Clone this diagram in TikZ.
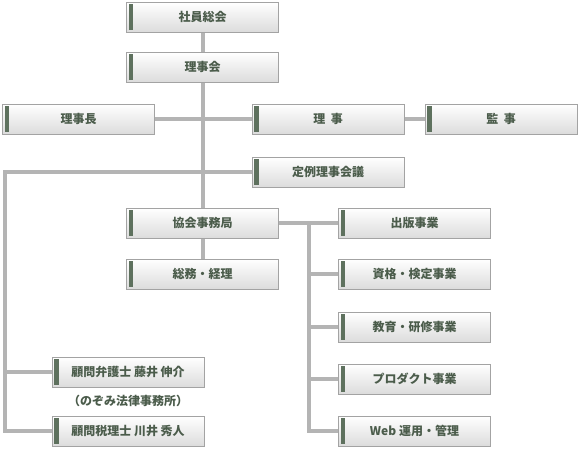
\documentclass[tikz,border=0pt]{standalone}
\usepackage{fontspec}
\newfontfamily\cjk{Noto Sans CJK JP}
\usetikzlibrary{backgrounds}
\definecolor{boxborder}{HTML}{A3A3A3}
\definecolor{boxbottom}{HTML}{DCDCDC}
\definecolor{bargreen}{HTML}{5E715E}
\definecolor{textgreen}{HTML}{4B5C4B}
\definecolor{linegray}{HTML}{B4B4B4}
\tikzset{
  orgbox/.style={draw=boxborder, line width=1pt, top color=white, bottom color=boxbottom,
    minimum width=152pt, minimum height=30pt, inner sep=0pt,
    font=\cjk\bfseries\fontsize{12}{14}\selectfont, text=textgreen,
    path picture={\fill[bargreen] ([xshift=2pt,yshift=-2pt]path picture bounding box.north west)
      rectangle ([xshift=6.5pt,yshift=2pt]path picture bounding box.south west);}},
  conn/.style={draw=linegray, line width=4pt},
  note/.style={font=\cjk\bfseries\fontsize{12}{14}\selectfont, text=textgreen, inner sep=0pt}
}
\begin{document}
\begin{tikzpicture}[x=1pt,y=-1pt]
\useasboundingbox (0,0) rectangle (578,448);
\node[orgbox] (shain) at (202.5,17) {社員総会};
\node[orgbox] (rijikai) at (202.5,67) {理事会};
\node[orgbox] (richo) at (78.5,119) {理事長};
\node[orgbox] (riji) at (328,119) {理\ \ 事};
\node[orgbox] (kanji) at (501,119) {監\ \ 事};
\node[orgbox] (teirei) at (328,172) {定例理事会議};
\node[orgbox] (jimu) at (202.5,223) {協会事務局};
\node[orgbox] (somu) at (202.5,274) {総務・経理};
\node[orgbox] (shuppan) at (414.5,223) {出版事業};
\node[orgbox] (shikaku) at (414.5,274) {資格・検定事業};
\node[orgbox] (kyoiku) at (414.5,327) {教育・研修事業};
\node[orgbox] (product) at (414.5,379) {プロダクト事業};
\node[orgbox] (web) at (414.5,431) {Web 運用・管理};
\node[orgbox] (bengoshi) at (128,372) {顧問弁護士 藤井 伸介};
\node[note] (nozomi) at (128,401) {（のぞみ法律事務所）};
\node[orgbox] (zeirishi) at (128,431) {顧問税理士 川井 秀人};
\coordinate (lt) at (5,172);
\coordinate (bt) at (309,223);
\begin{scope}[on background layer]
\draw[conn] (shain.south) -- (rijikai.north);
\draw[conn] (rijikai.south) -- (jimu.north);
\draw[conn] (jimu.south) -- (somu.north);
\draw[conn] (richo.east) -- (riji.west);
\draw[conn] (riji.east) -- (kanji.west);
\draw[conn] (teirei.west) -- (lt) -- (lt |- zeirishi.west) -- (zeirishi.west);
\draw[conn] (lt |- bengoshi.west) -- (bengoshi.west);
\draw[conn] (jimu.east) -- (shuppan.west);
\draw[conn] (bt) -- (bt |- web.west) -- (web.west);
\draw[conn] (bt |- shikaku.west) -- (shikaku.west);
\draw[conn] (bt |- kyoiku.west) -- (kyoiku.west);
\draw[conn] (bt |- product.west) -- (product.west);
\end{scope}
\end{tikzpicture}
\end{document}
